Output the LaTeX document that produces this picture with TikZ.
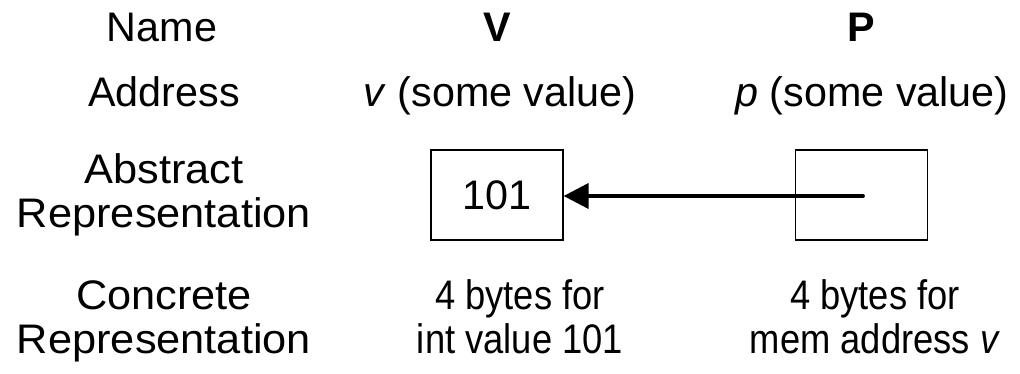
\documentclass[tikz,border=0pt]{standalone}
\usepackage{fontspec}
\setmainfont{Liberation Sans}
\newfontfamily\narrowsans[FakeStretch=0.88]{Liberation Sans}
\newfontfamily\widesans[FakeStretch=1.05]{Liberation Sans}
\usetikzlibrary{arrows.meta}

\begin{document}
\begin{tikzpicture}[x=0.02cm, y=-0.02cm, >={Triangle[length=0.5cm,width=0.5cm]},
    every node/.style={font=\fontsize{23.5}{25.5}\selectfont, align=center, inner sep=0pt, anchor=base},
    narrow/.style={font=\fontsize{23.5}{25.5}\narrowsans},
    wide/.style={font=\fontsize{23.5}{25.5}\widesans},
    cell/.style={draw, line width=0.7pt, minimum width=2.64cm, minimum height=1.8cm, anchor=center}]
  \useasboundingbox (0,0) rectangle (1020,374);
  % rows
  \node (name) at (162,42) {Name};
  \node (vname) at (497,42) {\textbf{V}};
  \node (pname) at (861,42) {\textbf{P}};
  \node (addr) at (164,107) {Address};
  \node (vaddr) at (500,107) {\textit{v} (some value)};
  \node (paddr) at (872,107) {\textit{p} (some value)};
  \node[wide] (abs) at (164,228) {Abstract\\Representation};
  \node[cell] (vbox) at (497,195) {101};
  \node[cell] (pbox) at (861.5,195) {};
  \node[wide] (conc) at (164,354) {Concrete\\Representation};
  \node[narrow] (vconc) at (520,354) {4 bytes for\\int value 101};
  \node[narrow] (pconc) at (875,354) {4 bytes for\\mem address \textit{v}};
  % pointer
  \coordinate (ptr) at (863,196);
  \draw[->, line width=2.2pt, line cap=round] (ptr) -- (vbox.east |- ptr);
\end{tikzpicture}
\end{document}
